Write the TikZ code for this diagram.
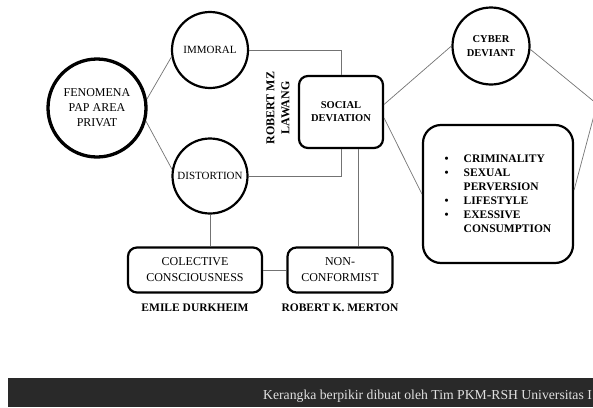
\documentclass[tikz,border=0pt]{standalone}
\usepackage{fontspec}
\setmainfont{Liberation Serif}
\usepackage{tikz}
\usetikzlibrary{positioning,calc}
\definecolor{barblack}{rgb}{0.16,0.16,0.16}
\definecolor{linkgray}{rgb}{0.45,0.45,0.45}

\begin{document}
\begin{tikzpicture}[x=1pt,y=-1pt,
   circ/.style={draw,circle,line width=2.2pt,inner sep=0pt,align=center,
                font=\fontsize{11}{15}\selectfont},
   rbox/.style={draw,line width=2.2pt,rounded corners=9pt,align=center,inner sep=0pt,
                font=\fontsize{12}{16}\selectfont},
   who/.style={font=\bfseries\fontsize{11.5}{14}\selectfont,inner sep=1pt},
   link/.style={draw=linkgray,line width=0.7pt}]
  \useasboundingbox (0,0) rectangle (593,407);
  \clip (0,0) rectangle (593,407);
  % left side
  \node[circ,line width=3.3pt,minimum size=98pt,font=\fontsize{12}{15}\selectfont]
       (fen) at (97,108) {FENOMENA\\PAP AREA\\PRIVAT};
  \node[circ,minimum size=76pt] (imm) at (210,50) {IMMORAL};
  \node[circ,minimum size=75pt] (dist) at (210,176) {DISTORTION};
  % centre
  \node[rbox,minimum width=84pt,minimum height=72pt,
        font=\bfseries\fontsize{10.5}{13}\selectfont] (sd) at (341,112) {SOCIAL\\DEVIATION};
  \node[who,rotate=90,align=center,font=\bfseries\fontsize{12}{15}\selectfont]
       (lawang) at (278,108) {ROBERT MZ\\LAWANG};
  % right side
  \node[circ,minimum size=77pt,font=\bfseries\fontsize{10.5}{14}\selectfont]
       (cyb) at (491,46) {CYBER\\DEVIANT};
  \node[rbox,rounded corners=18pt,minimum width=150pt,minimum height=138pt,align=left,
        font=\bfseries\fontsize{11.5}{14}\selectfont] (kinds) at (498,194)
       {\makebox[19pt][l]{\textbullet}CRIMINALITY\\
        \makebox[19pt][l]{\textbullet}SEXUAL\\
        \makebox[19pt][l]{}PERVERSION\\
        \makebox[19pt][l]{\textbullet}LIFESTYLE\\
        \makebox[19pt][l]{\textbullet}EXESSIVE\\
        \makebox[19pt][l]{}CONSUMPTION};
  \coordinate (offright) at (597,104);
  % bottom row
  \node[rbox,minimum width=134pt,minimum height=45pt] (col) at (195,270)
       {COLECTIVE\\CONSCIOUSNESS};
  \node[rbox,minimum width=105pt,minimum height=45pt] (nc) at (340,270)
       {NON-\\CONFORMIST};
  \node[who,below=9pt of col] (durk) {EMILE DURKHEIM};
  \node[who,below=9pt of nc] (mert) {ROBERT K. MERTON};
  % links
  \draw[link] (fen.10) -- (imm.190);
  \draw[link] (fen.-15) -- (dist.170);
  \draw[link] (imm.east) -| (sd.north);
  \draw[link] (dist.east) -| (sd.south);
  \draw[link] (dist.south) -- (dist.south |- col.north);
  \draw[link] (col.east) -- (nc.west);
  \draw[link] (sd.-65) -- (sd.-65 |- nc.north);
  \draw[link] (sd.10) -- (cyb.west);
  \draw[link] (sd.-8) -- (kinds.west);
  \draw[link] (cyb.-5) -- (offright);
  \draw[link] (kinds.3) -- (offright);
  % caption bar
  \fill[barblack] (8,378) rectangle (593,407);
  \node[anchor=base west,inner sep=0pt,text=white!88!black,font=\fontsize{13.7}{16}\selectfont]
       (caption) at (263,399) {Kerangka berpikir dibuat oleh Tim PKM-RSH Universitas I};
\end{tikzpicture}
\end{document}
